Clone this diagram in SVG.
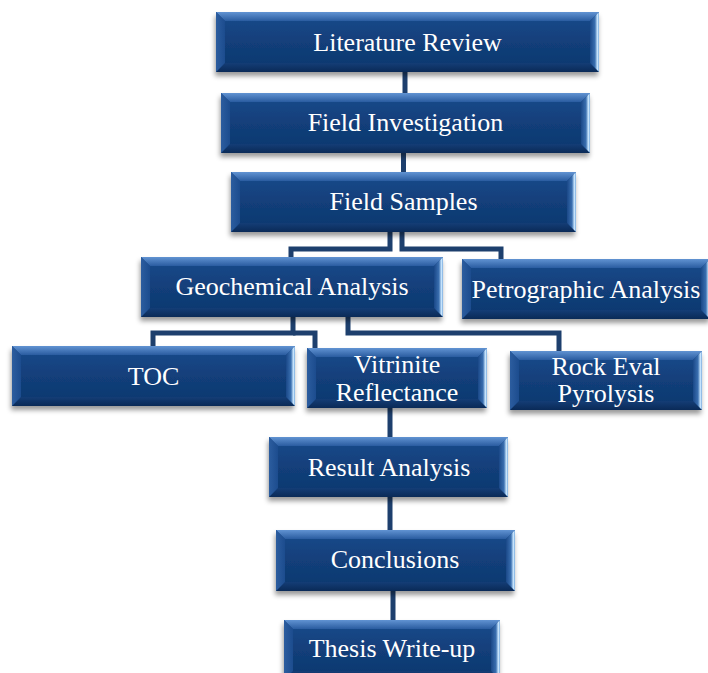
<svg xmlns="http://www.w3.org/2000/svg" width="708" height="673" viewBox="0 0 708 673">
<defs>
<linearGradient id="gFace" x1="0" y1="0" x2="0" y2="1"><stop offset="0" stop-color="#1b4b8d"/><stop offset="0.5" stop-color="#123f7a"/><stop offset="1" stop-color="#0e376e"/></linearGradient>
<linearGradient id="gTop" x1="0" y1="0" x2="0" y2="1"><stop offset="0" stop-color="#6193d2"/><stop offset="1" stop-color="#2a5ca0"/></linearGradient>
<linearGradient id="gLeft" x1="0" y1="0" x2="1" y2="0"><stop offset="0" stop-color="#2c5d9f"/><stop offset="1" stop-color="#1c4c8e"/></linearGradient>
<linearGradient id="gBot" x1="0" y1="0" x2="0" y2="1"><stop offset="0" stop-color="#143d76"/><stop offset="1" stop-color="#0a2a57"/></linearGradient>
<linearGradient id="gRight" x1="0" y1="0" x2="1" y2="0"><stop offset="0" stop-color="#1a4888"/><stop offset="0.55" stop-color="#3a6fb0"/><stop offset="0.82" stop-color="#cbe8ff"/><stop offset="1" stop-color="#78aadd"/></linearGradient>
<filter id="sh" x="-10%" y="-20%" width="120%" height="150%"><feDropShadow dx="-1" dy="4" stdDeviation="2.5" flood-color="#000" flood-opacity="0.4"/></filter>
</defs>
<style>
.face{fill:url(#gFace);filter:url(#sh)}
.bt{fill:url(#gTop)}
.bl{fill:url(#gLeft)}
.bb{fill:url(#gBot)}
.br{fill:url(#gRight)}
.lbl{font-family:"Liberation Serif","Times New Roman",serif;font-size:26px;fill:#ffffff;text-anchor:middle}
.con{fill:none;stroke:#1d3f6d;stroke-width:5}
</style>
<rect width="708" height="673" fill="#ffffff"/>
<g id="connectors">
<path class="con" d="M405 72V93"/>
<path class="con" d="M403.5 153V172"/>
<path class="con" d="M390 232V249H291V257"/>
<path class="con" d="M402 232V249H501V259"/>
<path class="con" d="M293 317V333H153V346"/>
<path class="con" d="M293 333H315V348"/>
<path class="con" d="M348 317V333H559V351"/>
<path class="con" d="M390 408V437"/>
<path class="con" d="M390 497V530"/>
<path class="con" d="M393 591V620"/>
</g>
<g id="literature-review">
<rect class="face" x="216" y="12" width="383" height="60"/>
<path class="bt" d="M216 12h383l-9 9H225z"/><path class="bb" d="M216 72h383l-9-9H225z"/><path class="bl" d="M216 12l9 9v42l-9 9z"/><path class="br" d="M599 12l-9 9v42l9 9z"/>
<text class="lbl" x="407.5" y="51">Literature Review</text>
</g>
<g id="field-investigation">
<rect class="face" x="221" y="93" width="369" height="60"/>
<path class="bt" d="M221 93h369l-9 9H230z"/><path class="bb" d="M221 153h369l-9-9H230z"/><path class="bl" d="M221 93l9 9v42l-9 9z"/><path class="br" d="M590 93l-9 9v42l9 9z"/>
<text class="lbl" x="405.5" y="131">Field Investigation</text>
</g>
<g id="field-samples">
<rect class="face" x="231" y="172" width="345" height="60"/>
<path class="bt" d="M231 172h345l-9 9H240z"/><path class="bb" d="M231 232h345l-9-9H240z"/><path class="bl" d="M231 172l9 9v42l-9 9z"/><path class="br" d="M576 172l-9 9v42l9 9z"/>
<text class="lbl" x="403.5" y="210">Field Samples</text>
</g>
<g id="geochemical-analysis">
<rect class="face" x="141" y="257" width="302" height="60"/>
<path class="bt" d="M141 257h302l-9 9H150z"/><path class="bb" d="M141 317h302l-9-9H150z"/><path class="bl" d="M141 257l9 9v42l-9 9z"/><path class="br" d="M443 257l-9 9v42l9 9z"/>
<text class="lbl" x="292" y="295">Geochemical Analysis</text>
</g>
<g id="petrographic-analysis">
<rect class="face" x="462" y="259" width="248" height="60"/>
<path class="bt" d="M462 259h248l-9 9H471z"/><path class="bb" d="M462 319h248l-9-9H471z"/><path class="bl" d="M462 259l9 9v42l-9 9z"/><path class="br" d="M710 259l-9 9v42l9 9z"/>
<text class="lbl" x="586" y="298">Petrographic Analysis</text>
</g>
<g id="toc">
<rect class="face" x="12" y="346" width="283" height="60"/>
<path class="bt" d="M12 346h283l-9 9H21z"/><path class="bb" d="M12 406h283l-9-9H21z"/><path class="bl" d="M12 346l9 9v42l-9 9z"/><path class="br" d="M295 346l-9 9v42l9 9z"/>
<text class="lbl" x="153.5" y="385">TOC</text>
</g>
<g id="vitrinite-reflectance">
<rect class="face" x="307" y="348" width="180" height="60"/>
<path class="bt" d="M307 348h180l-9 9H316z"/><path class="bb" d="M307 408h180l-9-9H316z"/><path class="bl" d="M307 348l9 9v42l-9 9z"/><path class="br" d="M487 348l-9 9v42l9 9z"/>
<text class="lbl" x="397" y="373">Vitrinite</text>
<text class="lbl" x="397" y="401">Reflectance</text>
</g>
<g id="rock-eval-pyrolysis">
<rect class="face" x="510" y="351" width="192" height="59"/>
<path class="bt" d="M510 351h192l-9 9H519z"/><path class="bb" d="M510 410h192l-9-9H519z"/><path class="bl" d="M510 351l9 9v41l-9 9z"/><path class="br" d="M702 351l-9 9v41l9 9z"/>
<text class="lbl" x="606" y="375">Rock Eval</text>
<text class="lbl" x="606" y="402">Pyrolysis</text>
</g>
<g id="result-analysis">
<rect class="face" x="269" y="437" width="239" height="60"/>
<path class="bt" d="M269 437h239l-9 9H278z"/><path class="bb" d="M269 497h239l-9-9H278z"/><path class="bl" d="M269 437l9 9v42l-9 9z"/><path class="br" d="M508 437l-9 9v42l9 9z"/>
<text class="lbl" x="389" y="476">Result Analysis</text>
</g>
<g id="conclusions">
<rect class="face" x="276" y="530" width="239" height="61"/>
<path class="bt" d="M276 530h239l-9 9H285z"/><path class="bb" d="M276 591h239l-9-9H285z"/><path class="bl" d="M276 530l9 9v43l-9 9z"/><path class="br" d="M515 530l-9 9v43l9 9z"/>
<text class="lbl" x="395" y="568">Conclusions</text>
</g>
<g id="thesis-write-up">
<rect class="face" x="284" y="620" width="216" height="60"/>
<path class="bt" d="M284 620h216l-9 9H293z"/><path class="bb" d="M284 680h216l-9-9H293z"/><path class="bl" d="M284 620l9 9v42l-9 9z"/><path class="br" d="M500 620l-9 9v42l9 9z"/>
<text class="lbl" x="392" y="657">Thesis Write-up</text>
</g>
</svg>
